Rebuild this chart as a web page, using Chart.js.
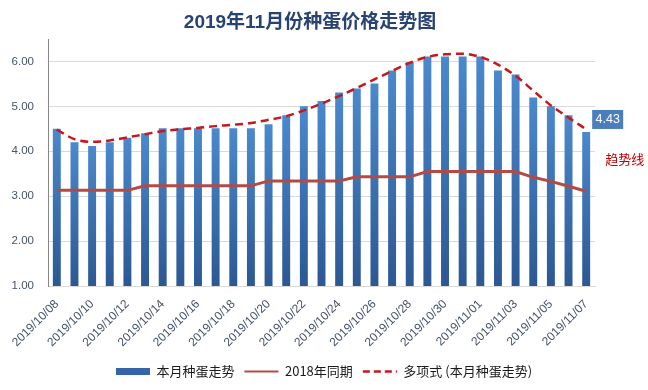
<!DOCTYPE html>
<html>
<head>
<meta charset="utf-8">
<script src="https://cdn.jsdelivr.net/npm/chart.js@4.4.1/dist/chart.umd.min.js"></script>
<style>
  html, body { margin: 0; padding: 0; background: #ffffff; }
  #wrap { width: 648px; height: 390px; position: relative; }
</style>
</head>
<body>
<div id="wrap"><canvas id="c" width="648" height="390"></canvas></div>
<script>
const titleText = '2019年11月份种蛋价格走势图';
const categories = [
  '2019/10/08','2019/10/09','2019/10/10','2019/10/11','2019/10/12','2019/10/13','2019/10/14','2019/10/15',
  '2019/10/16','2019/10/17','2019/10/18','2019/10/19','2019/10/20','2019/10/21','2019/10/22','2019/10/23',
  '2019/10/24','2019/10/25','2019/10/26','2019/10/27','2019/10/28','2019/10/29','2019/10/30','2019/10/31',
  '2019/11/01','2019/11/02','2019/11/03','2019/11/04','2019/11/05','2019/11/06','2019/11/07'
];
const seriesNames = ['本月种蛋走势', '2018年同期', '多项式 (本月种蛋走势)'];
const thisMonth = [4.50,4.20,4.12,4.20,4.30,4.40,4.51,4.51,4.51,4.51,4.51,4.51,4.60,4.80,5.00,5.12,
                   5.31,5.40,5.51,5.80,5.98,6.11,6.11,6.11,6.11,5.80,5.71,5.20,5.00,4.80,4.43];
const lastYear = [3.13,3.13,3.13,3.13,3.13,3.23,3.23,3.23,3.23,3.23,3.23,3.23,3.34,3.34,3.34,3.34,
                  3.34,3.43,3.43,3.43,3.43,3.55,3.55,3.55,3.55,3.55,3.55,3.42,3.33,3.22,3.11];
const trend = [4.48,4.27,4.21,4.24,4.31,4.38,4.45,4.49,4.52,4.56,4.59,4.63,4.70,4.78,4.91,5.06,
               5.23,5.41,5.60,5.79,5.97,6.10,6.16,6.17,6.10,5.93,5.68,5.35,5.02,4.75,4.49];
const yTicks = [1, 2, 3, 4, 5, 6];
const lastLabel = '4.43';
const noteText = '趋势线';

const FONT = '"Liberation Sans", "Noto Sans CJK SC", sans-serif';

const titlePlugin = {
  id: 'customTitle',
  afterDraw(chart) {
    const c = chart.ctx;
    c.save();
    c.font = 'bold 19px ' + FONT;
    c.fillStyle = '#284372';
    c.textAlign = 'center';
    c.textBaseline = 'middle';
    c.fillText(titleText, 310, 23);
    c.restore();
  }
};

const labelPlugin = {
  id: 'lastLabel',
  afterDatasetsDraw(chart) {
    const meta = chart.getDatasetMeta(0);
    const bar = meta.data[meta.data.length - 1];
    if (!bar) return;
    const c = chart.ctx;
    c.save();
    const bx = bar.x + 6, bw = 31, bh = 19, by = bar.y - 3 - bh;
    c.fillStyle = '#4a7ebc';
    c.fillRect(bx, by, bw, bh);
    c.font = '12.5px ' + FONT;
    c.fillStyle = '#ffffff';
    c.textAlign = 'center';
    c.textBaseline = 'middle';
    c.fillText(lastLabel, bx + bw / 2, by + bh / 2 + 0.5);
    c.font = '13px "Noto Sans CJK SC", sans-serif';
    c.fillStyle = '#c00000';
    c.textAlign = 'left';
    c.fillText(noteText, bar.x + 19, bar.y + 27);
    c.restore();
  }
};

function barColor(ctx) {
  const chart = ctx.chart;
  const area = chart.chartArea;
  if (!area || ctx.raw === undefined || !chart.scales.y) return '#3565a8';
  const top = chart.scales.y.getPixelForValue(ctx.raw);
  const g = chart.ctx.createLinearGradient(0, top, 0, area.bottom);
  g.addColorStop(0, '#4a89cd');
  g.addColorStop(1, '#2c5893');
  return g;
}

new Chart(document.getElementById('c'), {
  data: {
    labels: categories,
    datasets: [
      {
        type: 'bar',
        label: seriesNames[0],
        data: thisMonth,
        backgroundColor: barColor,
        borderWidth: 0,
        categoryPercentage: 0.9,
        barPercentage: 0.5,
        order: 3,
        pointStyle: 'rect'
      },
      {
        type: 'line',
        label: seriesNames[1],
        data: lastYear,
        borderColor: '#b54a45',
        backgroundColor: '#b54a45',
        borderWidth: 3,
        pointRadius: 0,
        tension: 0,
        order: 2,
        pointStyle: 'line'
      },
      {
        type: 'line',
        label: seriesNames[2],
        data: trend,
        borderColor: '#c8161d',
        backgroundColor: '#c8161d',
        borderWidth: 2.5,
        borderDash: [8, 5],
        pointRadius: 0,
        tension: 0.4,
        cubicInterpolationMode: 'monotone',
        order: 1,
        pointStyle: 'line'
      }
    ]
  },
  options: {
    responsive: false,
    animation: false,
    devicePixelRatio: 1,
    layout: { padding: { top: 39, right: 0, left: 0, bottom: 2 } },
    plugins: {
      title: { display: false },
      tooltip: { enabled: false },
      legend: {
        display: true,
        position: 'bottom',
        labels: {
          usePointStyle: true,
          pointStyleWidth: 34,
          boxHeight: 7,
          padding: 10,
          color: '#1a1a1a',
          font: { size: 13, family: '"Noto Sans CJK SC", "Liberation Sans", sans-serif' },
          sort: (a, b) => a.datasetIndex - b.datasetIndex,
          generateLabels(chart) {
            const items = Chart.defaults.plugins.legend.labels.generateLabels(chart);
            items.forEach(it => {
              if (it.datasetIndex === 0) { it.fillStyle = '#3565a8'; it.strokeStyle = '#3565a8'; it.lineWidth = 0; }
              if (it.datasetIndex === 1) { it.lineWidth = 2; }
              if (it.datasetIndex === 2) { it.lineWidth = 2.5; it.lineDash = [7, 4]; }
            });
            return items;
          }
        }
      }
    },
    scales: {
      x: {
        type: 'category',
        grid: { display: false, drawTicks: false },
        border: { display: true, color: '#d9d9d9', width: 1 },
        ticks: {
          autoSkip: false,
          maxRotation: 45,
          minRotation: 45,
          padding: 11,
          color: '#44546a',
          font: { size: 12, family: FONT },
          callback: function (v, i) { return i % 2 === 0 ? categories[i] : ''; }
        },
        afterFit(scale) { scale.height = 69; }
      },
      y: {
        type: 'linear',
        min: 1,
        max: 6.5,
        grid: { color: '#d9d9d9', lineWidth: 1, drawTicks: false },
        border: { display: true, color: '#868686', width: 1 },
        ticks: {
          stepSize: 1,
          padding: 14,
          color: '#44546a',
          font: { size: 11.5, family: FONT },
          callback: v => Number(v).toFixed(2)
        },
        afterBuildTicks(scale) {
          scale.ticks = yTicks.map(v => ({ value: v }));
        },
        afterFit(scale) { scale.width = 48; }
      },
      yPad: {
        type: 'linear',
        position: 'right',
        display: true,
        grid: { display: false, drawTicks: false },
        border: { display: false },
        ticks: { display: false },
        afterFit(scale) { scale.width = 53; }
      }
    }
  },
  plugins: [titlePlugin, labelPlugin]
});
</script>
</body>
</html>
